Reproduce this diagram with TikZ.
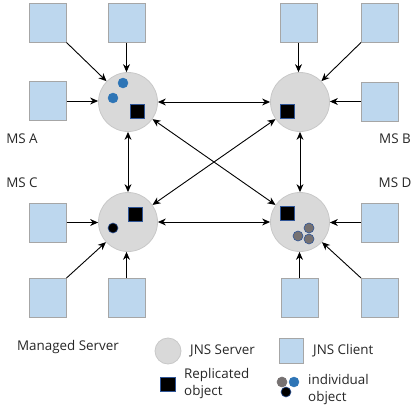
\documentclass[tikz,border=0pt]{standalone}
\usepackage{fontspec}
\setmainfont{Open Sans}
\usetikzlibrary{arrows.meta}
\definecolor{srvfill}{HTML}{D9D9D9}
\definecolor{srvdraw}{HTML}{C8C8C8}
\definecolor{clifill}{HTML}{BDD7EE}
\definecolor{clidraw}{HTML}{A6A6A6}
\definecolor{dotblue}{HTML}{2E75B6}
\definecolor{dotedge}{HTML}{2F5597}
\definecolor{dotgray}{HTML}{767171}
\definecolor{txt}{HTML}{262626}
\tikzset{
  server/.style={circle,fill=srvfill,draw=srvdraw,line width=0.8pt,minimum size=59pt,inner sep=0pt},
  client/.style={rectangle,fill=clifill,draw=clidraw,line width=1pt,minimum width=37pt,minimum height=39pt,inner sep=0pt},
  repl/.style={rectangle,fill=black,draw=dotedge,line width=1pt,minimum size=14pt,inner sep=0pt},
  bdot/.style={circle,fill=dotblue,draw=dotblue,minimum size=10pt,inner sep=0pt},
  gdot/.style={circle,fill=dotgray,draw=dotedge,line width=0.6pt,minimum size=10pt,inner sep=0pt},
  kdot/.style={circle,fill=black,draw=dotedge,line width=0.6pt,minimum size=10pt,inner sep=0pt},
  conn/.style={-{Stealth[length=8pt,width=7pt]},line width=0.9pt,black},
  biconn/.style={{Stealth[length=8pt,width=7pt]}-{Stealth[length=8pt,width=7pt]},line width=0.9pt,black},
  lbl/.style={font=\fontsize{13.4pt}{17pt}\selectfont,text=txt,inner sep=0pt},
}
\begin{document}
\begin{tikzpicture}[x=1pt,y=-1pt]
\useasboundingbox (0,0) rectangle (418,410);
% servers
\node[server] (A) at (128,102) {};
\node[server] (B) at (300,102) {};
\node[server] (C) at (128,222) {};
\node[server] (D) at (300,222) {};
% clients
\node[client] (A1) at (47.5,22.5) {};
\node[client] (A2) at (126.5,22.5) {};
\node[client] (A3) at (47.5,101) {};
\node[client] (B1) at (298.5,22.5) {};
\node[client] (B2) at (380,22.5) {};
\node[client] (B3) at (380,101.5) {};
\node[client] (C1) at (47.5,222.5) {};
\node[client] (C2) at (47.5,298) {};
\node[client] (C3) at (126.5,298) {};
\node[client] (D1) at (380,222.5) {};
\node[client] (D2) at (299.5,298) {};
\node[client] (D3) at (380,298) {};
% client connectors
\draw[conn] (A1.south east) -- (A);
\draw[conn] (A2.south) -- (A2.south |- A.north);
\draw[conn] (A3.east) -- (A3.east -| A.west);
\draw[conn] (B1.south) -- (B1.south |- B.north);
\draw[conn] (B2.south west) -- (B);
\draw[conn] (B3.west) -- (B3.west -| B.east);
\draw[conn] (C1.east) -- (C1.east -| C.west);
\draw[conn] (C2.north east) -- (C);
\draw[conn] (C3.north) -- (C3.north |- C.south);
\draw[conn] (D1.west) -- (D1.west -| D.east);
\draw[conn] (D2.north) -- (D2.north |- D.south);
\draw[conn] (D3.north west) -- (D);
% server connectors
\draw[biconn] (A) -- (B);
\draw[biconn] (A) -- (C);
\draw[biconn] (B) -- (D);
\draw[biconn] (C) -- (D);
\draw[biconn] (A) -- (D);
\draw[biconn] (C) -- (B);
% contents
\node[bdot] (a1) at (123,83) {};
\node[bdot] (a2) at (113,98) {};
\node[repl] (ar) at (137,111) {};
\node[repl] (br) at (287,111) {};
\node[repl] (cr) at (135,214) {};
\node[kdot] (c1) at (113,228) {};
\node[repl] (dr) at (287,213) {};
\node[gdot] (d1) at (309,228) {};
\node[gdot] (d2) at (298,236) {};
\node[gdot] (d3) at (309,239) {};
% labels
\node[lbl] (lA) at (22,139) {MS A};
\node[lbl] (lB) at (395,139) {MS B};
\node[lbl] (lC) at (22,183) {MS C};
\node[lbl] (lD) at (395,183) {MS D};
% legend
\node[lbl] (lm) at (68,347) {Managed Server};
\node[server,minimum size=26pt] (Ls) at (168,351) {};
\node[lbl,anchor=west] (Lst) at (190,351) {JNS Server};
\node[client,minimum width=24pt,minimum height=25pt] (Lc) at (291,350.5) {};
\node[lbl,anchor=west] (Lct) at (313,351) {JNS Client};
\node[repl,minimum width=15pt] (Lr) at (168,384) {};
\node[lbl,anchor=west,align=left] (Lrt) at (184,384) {Replicated\\object};
\node[gdot,draw=dotgray] (Lg) at (282,382) {};
\node[bdot] (Lb) at (294,382) {};
\node[kdot] (Lk) at (286,392) {};
\node[lbl,anchor=west,align=left] (Lit) at (308,390) {individual\\object};
\end{tikzpicture}
\end{document}
